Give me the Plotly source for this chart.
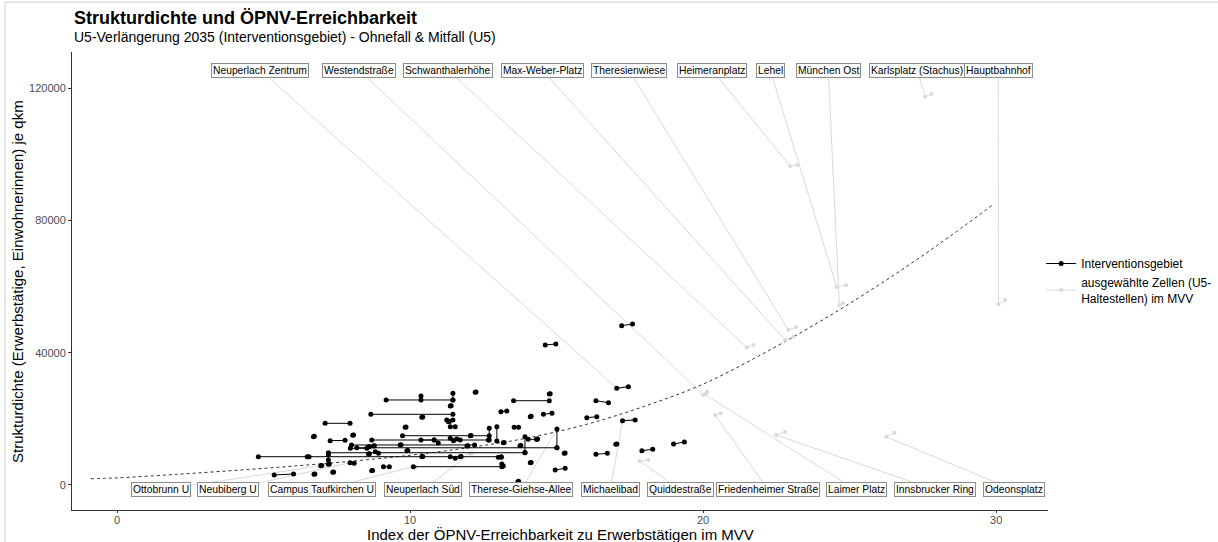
import plotly.graph_objects as go

# ---------------- data ----------------
# Interventionsgebiet: Ohnefall -> Mitfall pairs
ig_x_ohne = [4.82, 7.21, 8.18, 8.69, 9.74, 10.11, 9.18, 8.66, 7.10, 13.53, 5.36, 7.27, 7.96, 8.00, 6.49,
             11.46, 10.37, 12.70, 12.96, 13.92, 15.01,
             17.22, 14.61, 17.05, 16.34, 16.03, 17.25, 17.02, 17.91, 18.99, 16.34, 14.95, 15.26, 14.10, 14.10,
             14.55, 13.10, 12.22, 14.75, 13.55, 14.32, 13.18, 13.75, 13.01, 13.13, 13.68,
             11.37, 11.25, 11.37, 6.70, 8.04, 10.37, 8.75, 9.66, 8.58, 8.81, 9.89, 7.21, 7.21, 6.95, 7.95,
             8.69, 9.09, 6.72, 7.36, 10.40, 11.37, 11.71, 10.82, 11.37, 11.94, 9.83, 11.31, 12.05, 14.03,
             10.40, 8.58, 11.48]
ig_x_mit = [13.11, 13.92, 15.01, 12.67, 12.70, 13.13, 11.46, 11.46, 7.95, 14.75, 6.02, 7.78, 8.52, 12.20, 6.55,
            11.46, 10.37, 12.70, 12.96, 13.92, 15.01,
            17.59, 14.97, 17.45, 16.77, 16.37, 17.68, 17.06, 18.28, 19.36, 16.73, 15.29, 15.29, 14.13, 14.13,
            14.84, 13.30, 12.25, 14.78, 13.70, 14.35, 13.21, 13.78, 13.11, 13.18, 13.70,
            11.40, 11.46, 11.54, 6.73, 8.07, 10.82, 8.78, 9.69, 8.61, 8.92, 9.92, 7.21, 7.24, 6.98, 8.09,
            8.72, 9.29, 6.75, 7.39, 10.43, 11.54, 11.74, 10.96, 11.59, 11.97, 9.86, 11.34, 12.08, 14.32,
            10.43, 8.61, 11.71]
ig_y_ohne = [8550, 9750, 11250, 13600, 14900, 5530, 25700, 21370, 18650, 25480, 3020, 13390, 11090, 12100, 8550,
             27720, 26900, 17140, 17620, 14600, 16940,
             48160, 42320, 29230, 25480, 20350, 19440, 12300, 10370, 12390, 9280, 4540, 9580, 6740, 20650,
             21370, 22160, 28020, 27510, 17440, 13820, 12790, 11880, 8370, 6350, 1000,
             23880, 19650, 17620, 14600, 15020, 13600, 11790, 12090, 9370, 10070, 10370, 9070, 6260, 5830, 6740,
             4320, 5530, 3240, 3840, 8550, 8550, 8550, 13600, 14120, 11790, 17440, 19140, 14900, 13815,
             20470, 11490, 13390]
ig_y_mit = [8550, 9750, 11250, 13600, 14900, 5530, 25700, 21370, 18650, 25480, 3320, 13500, 11090, 12100, 8560,
            25700, 25700, 13600, 13300, 9830, 11280,
            48670, 42620, 29720, 24880, 20650, 19650, 12400, 10790, 13000, 9580, 5050, 9700, 6800, 20750,
            21680, 22370, 28100, 27600, 17440, 13900, 12850, 11950, 8370, 5740, 1100,
            23950, 19650, 17620, 14700, 15100, 13600, 11850, 12150, 9450, 9580, 10450, 7560, 6330, 5900, 6560,
            4400, 5530, 3320, 3900, 8600, 8070, 8600, 12700, 13910, 11850, 17500, 19200, 14950, 13815,
            20550, 11550, 13600]

# ausgewählte Zellen (U5-Haltestellen)
sel_station = ["Neuperlach Zentrum", "Westendstraße", "Schwanthalerhöhe", "Max-Weber-Platz", "Theresienwiese",
               "Heimeranplatz", "Lehel", "München Ost", "Karlsplatz (Stachus)", "Hauptbahnhof",
               "Ottobrunn U", "Neubiberg U", "Campus Taufkirchen U", "Neuperlach Süd", "Therese-Giehse-Allee",
               "Michaelibad", "Quiddestraße", "Friedenheimer Straße", "Laimer Platz", "Innsbrucker Ring",
               "Odeonsplatz"]
sel_x_ohne = [17.05, 20.01, 21.49, 22.80, 22.91, 22.97, 24.56, 24.65, 27.58, 30.08,
              6.95, 7.95, 10.11, 12.05, 15.01, 17.25, 17.83, 20.41, 20.05, 22.49, 26.25]
sel_x_mit = [17.40, 20.13, 21.72, 23.08, 23.17, 23.22, 24.88, 24.77, 27.80, 30.31,
             7.05, 8.09, 10.20, 12.10, 15.05, 17.60, 18.13, 20.60, 20.13, 22.80, 26.53]
sel_y_ohne = [29300, 27200, 41630, 43830, 46860, 96430, 59770, 54410, 117390, 54630,
              5830, 6740, 5530, 9500, 16940, 19440, 7260, 21160, 27400, 15120, 14600]
sel_y_mit = [29700, 28200, 42320, 44830, 47670, 96740, 60470, 54930, 118200, 55920,
             5900, 6560, 5530, 9500, 16940, 19650, 7560, 21680, 27900, 16110, 15810]

# Trend (dashed curve)
trend_x = [-0.9, 0, 2, 4, 6, 8, 10, 12, 14, 16, 18, 20, 22, 24, 26, 28, 29.9]
trend_y = [1900, 2150, 3200, 4400, 5700, 7200, 9000, 11300, 14200, 18300, 23800, 30500, 39500, 49500, 60500, 72500, 84800]

# tick labels
x_ticks = [0, 10, 20, 30]
y_ticks = [0, 40000, 80000, 120000]
y_ticktext = ["0", "40000", "80000", "120000"]

# ---------------- layout helpers (label placement, not data) ----------------
label_side = ["top"] * 10 + ["bottom"] * 11
label_x = [4.88, 8.26, 11.30, 14.51, 17.47, 20.31, 22.29, 24.27, 27.30, 30.07,
           1.50, 3.79, 6.99, 10.44, 13.79, 16.83, 19.22, 22.22, 25.22, 27.92, 30.61]
LABEL_Y_TOP = 125450
LABEL_Y_BOTTOM = -1500

FONT = "Liberation Sans, Arial, Helvetica, sans-serif"


def pairs(x0, x1, y0, y1):
    xs, ys = [], []
    for a, b, c, d in zip(x0, x1, y0, y1):
        xs += [a, b, None]
        ys += [c, d, None]
    return xs, ys


fig = go.Figure()

# leader lines
lx, ly = [], []
for side, xl, xp, yp in zip(label_side, label_x, sel_x_ohne, sel_y_ohne):
    yl = LABEL_Y_TOP if side == "top" else LABEL_Y_BOTTOM
    lx += [xl, xp, None]
    ly += [yl, yp, None]
fig.add_trace(go.Scatter(x=lx, y=ly, mode="lines", line=dict(color="#d9d9d9", width=1),
                         hoverinfo="skip", showlegend=False))

# trend
fig.add_trace(go.Scatter(x=trend_x, y=trend_y, mode="lines",
                         line=dict(color="#333333", width=1, dash="3px,3px", shape="spline"),
                         hoverinfo="skip", showlegend=False))

# selected cells (grey)
gx, gy = pairs(sel_x_ohne, sel_x_mit, sel_y_ohne, sel_y_mit)
fig.add_trace(go.Scatter(x=gx, y=gy, mode="lines+markers",
                         line=dict(color="#d9d9d9", width=1),
                         marker=dict(color="#d9d9d9", size=4),
                         name="ausgewählte Zellen (U5-<br>Haltestellen) im MVV", legendrank=2))

# Interventionsgebiet (black)
bx, by = pairs(ig_x_ohne, ig_x_mit, ig_y_ohne, ig_y_mit)
fig.add_trace(go.Scatter(x=bx, y=by, mode="lines+markers",
                         line=dict(color="#000000", width=1),
                         marker=dict(color="#000000", size=5),
                         name="Interventionsgebiet", legendrank=1))

# labels
for side, xl, name in zip(label_side, label_x, sel_station):
    yl = LABEL_Y_TOP if side == "top" else LABEL_Y_BOTTOM
    fig.add_annotation(x=xl, y=yl, text=name, showarrow=False,
                       font=dict(family=FONT, size=10.3, color="#000000"),
                       bgcolor="white", bordercolor="#8c8c8c", borderwidth=1, borderpad=1)

# title & subtitle
fig.add_annotation(xref="paper", yref="paper", x=0, y=1.074, xanchor="left", yanchor="middle",
                   text="<b>Strukturdichte und ÖPNV-Erreichbarkeit</b>", showarrow=False,
                   font=dict(family=FONT, size=18, color="#000000"))
fig.add_annotation(xref="paper", yref="paper", x=0, y=1.032, xanchor="left", yanchor="middle",
                   text="U5-Verlängerung 2035 (Interventionsgebiet) - Ohnefall & Mitfall (U5)", showarrow=False,
                   font=dict(family=FONT, size=14, color="#000000"))

# axis titles
fig.add_annotation(xref="paper", yref="paper", x=0.5, y=-0.0535, xanchor="center", yanchor="middle",
                   text="Index der ÖPNV-Erreichbarkeit zu Erwerbstätigen im MVV", showarrow=False,
                   font=dict(family=FONT, size=15, color="#000000"))
fig.add_annotation(xref="paper", yref="paper", x=-0.0564, y=0.5, xanchor="center", yanchor="middle",
                   textangle=-90,
                   text="Strukturdichte (Erwerbstätige, Einwohnerinnen) je qkm", showarrow=False,
                   font=dict(family=FONT, size=15, color="#000000"))

# light frame (top/left)
fig.add_shape(type="line", xref="paper", yref="paper", x0=-0.0686, x1=1.2, y0=1.109, y1=1.109,
              line=dict(color="#d0d0d0", width=1))
fig.add_shape(type="line", xref="paper", yref="paper", x0=-0.0686, x1=-0.0686, y0=-0.08, y1=1.109,
              line=dict(color="#d0d0d0", width=1))

fig.update_layout(
    width=1218, height=542,
    margin=dict(l=72, r=170, t=52, b=32, autoexpand=False),
    paper_bgcolor="white", plot_bgcolor="white",
    font=dict(family=FONT, color="#000000"),
    showlegend=True,
    legend=dict(x=0.993, y=0.5, xanchor="left", yanchor="middle",
                font=dict(family=FONT, size=12, color="#000000"),
                itemwidth=30, tracegroupgap=4),
    xaxis=dict(range=[-1.54, 31.77], tickvals=x_ticks, ticks="outside", ticklen=2, tickcolor="#333333",
               showline=True, linecolor="#333333", linewidth=1, showgrid=False, zeroline=False,
               automargin=False, ticklabelstandoff=-2,
               tickfont=dict(family=FONT, size=11, color="#4d4d4d")),
    yaxis=dict(range=[-7560, 130900], tickvals=y_ticks, ticktext=y_ticktext, ticks="outside", ticklen=3,
               tickcolor="#333333", automargin=False,
               showline=True, linecolor="#333333", linewidth=1, showgrid=False, zeroline=False,
               tickfont=dict(family=FONT, size=11, color="#4d4d4d")),
)

fig.write_html("out.html", config={"displayModeBar": False},
               post_script="document.body.style.margin='0px';")
